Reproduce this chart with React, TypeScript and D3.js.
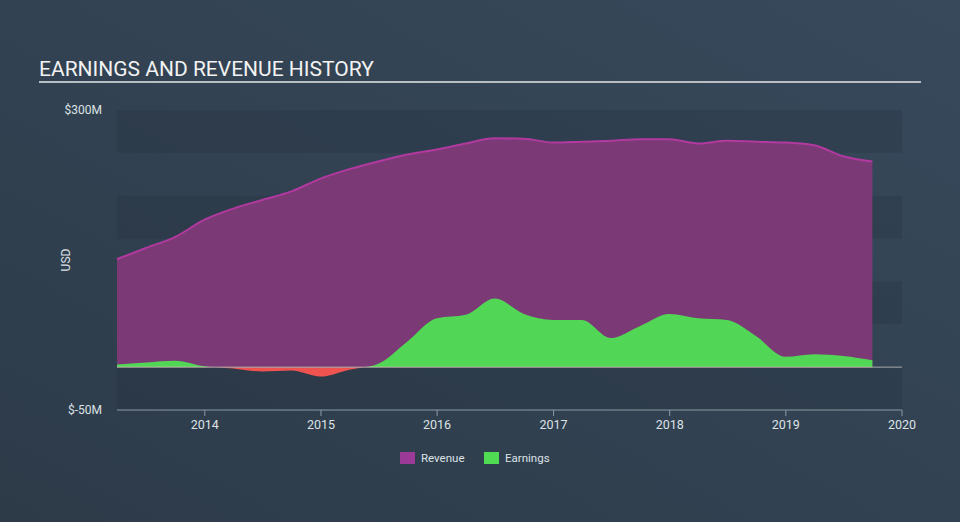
import React from "react";
import * as d3 from "d3";

const quarters = [
  "2013-03-31", "2013-06-30", "2013-09-30", "2013-12-31",
  "2014-03-31", "2014-06-30", "2014-09-30", "2014-12-31",
  "2015-03-31", "2015-06-30", "2015-09-30", "2015-12-31",
  "2016-03-31", "2016-06-30", "2016-09-30", "2016-12-31",
  "2017-03-31", "2017-06-30", "2017-09-30", "2017-12-31",
  "2018-03-31", "2018-06-30", "2018-09-30", "2018-12-31",
  "2019-03-31", "2019-06-30", "2019-09-30",
];
const revenue = [126, 139, 152, 172, 185, 195, 205, 220, 231, 240, 248, 254, 261, 267, 266.5, 262, 263, 264, 266, 266, 261, 264, 263, 262, 259, 246, 240];
const earnings = [3, 5.5, 7.5, 1, -1.5, -5, -4, -11, -3, 4, 30, 57, 61, 80, 62, 55, 55, 34, 48, 62, 57, 55, 36, 12, 15, 13, 8];
const yearTicks = ["2014", "2015", "2016", "2017", "2018", "2019", "2020"];
const yTickValues = [300, -50];
const bandEdges = [300, 250, 200, 150, 100, 50, 0, -50];
const legendItems = [
  { label: "Revenue", color: "#9c3a98" },
  { label: "Earnings", color: "#4fdc52" },
];

export default function App() {
  const W = 960, H = 522;
  const left = 117, right = 902, top = 110, bottom = 410;
  const parse = d3.timeParse("%Y-%m-%d");
  const dates = quarters.map((q) => parse(q) as Date);
  const x = d3.scaleTime().domain([parse("2013-03-31") as Date, new Date(2020, 0, 1)]).range([left, right]);
  const y = d3.scaleLinear().domain([-50, 300]).range([bottom, top]);
  const y0 = y(0);

  const revData = dates.map((d, i) => ({ d, v: revenue[i] }));
  const earnData = dates.map((d, i) => ({ d, v: earnings[i] }));

  const area = d3.area<{ d: Date; v: number }>()
    .x((p) => x(p.d)).y0(y0).y1((p) => y(p.v)).curve(d3.curveMonotoneX);
  const line = d3.line<{ d: Date; v: number }>()
    .x((p) => x(p.d)).y((p) => y(p.v)).curve(d3.curveMonotoneX);

  const bands = [];
  for (let i = 0; i < bandEdges.length - 1; i++) {
    if (i % 2 === 0) {
      bands.push({ a: bandEdges[i], b: bandEdges[i + 1] });
    }
  }

  const font = "Roboto, 'Open Sans', sans-serif";

  return (
    <svg width={W} height={H} style={{ position: "absolute", left: 0, top: 0, display: "block" }} fontFamily={font}>
      <defs>
        <linearGradient id="bg" x1="0" y1="1" x2="1" y2="0">
          <stop offset="0%" stopColor="#2d3b49" />
          <stop offset="100%" stopColor="#37495b" />
        </linearGradient>
        <clipPath id="above">
          <rect x={0} y={0} width={W} height={y0} />
        </clipPath>
        <clipPath id="below">
          <rect x={0} y={y0} width={W} height={H - y0} />
        </clipPath>
      </defs>
      <rect x={0} y={0} width={W} height={H} fill="url(#bg)" />

      <text x={39} y={76} fill="#f2f2f2" fontSize={21} fontWeight={400}>EARNINGS AND REVENUE HISTORY</text>
      <line x1={39} x2={921} y1={82} y2={82} stroke="#b8bec4" strokeWidth={2} />

      {bands.map((b, i) => (
        <rect key={i} x={left} width={right - left} y={y(b.a)} height={y(b.b) - y(b.a)} fill="#1e2a36" opacity={0.2} />
      ))}

      <path d={area(revData) || ""} fill="#7b3a76" />
      <path d={line(revData) || ""} fill="none" stroke="#b2399f" strokeWidth={2} />

      <path d={area(earnData) || ""} fill="#51d655" clipPath="url(#above)" />
      <path d={area(earnData) || ""} fill="#ef5350" clipPath="url(#below)" />

      <line x1={left} x2={right} y1={y0} y2={y0} stroke="#c8c8c0" strokeWidth={1} opacity={0.8} />

      {yTickValues.map((v) => (
        <text key={v} x={102} y={y(v)} dy="0.35em" textAnchor="end" fill="#dde2e6" fontSize={12}>
          {`$${v}M`}
        </text>
      ))}
      <text transform={`translate(70, ${(top + bottom) / 2}) rotate(-90)`} textAnchor="middle" fill="#dde2e6" fontSize={12}>USD</text>

      <line x1={left} x2={right} y1={bottom} y2={bottom} stroke="#8d9aa6" strokeWidth={1} />
      {yearTicks.map((t) => {
        const xx = x(new Date(+t, 0, 1));
        return (
          <g key={t}>
            <line x1={xx} x2={xx} y1={bottom} y2={bottom + 6} stroke="#8d9aa6" strokeWidth={1} />
            <text x={xx} y={bottom + 15} dy="0.35em" textAnchor="middle" fill="#dde2e6" fontSize={12.5}>{t}</text>
          </g>
        );
      })}

      {legendItems.map((it, i) => {
        const lx = 400 + i * 84;
        return (
          <g key={it.label}>
            <rect x={lx} y={452} width={15} height={12} fill={it.color} />
            <text x={lx + 21} y={458} dy="0.35em" fill="#dde2e6" fontSize={11.5}>{it.label}</text>
          </g>
        );
      })}
    </svg>
  );
}
